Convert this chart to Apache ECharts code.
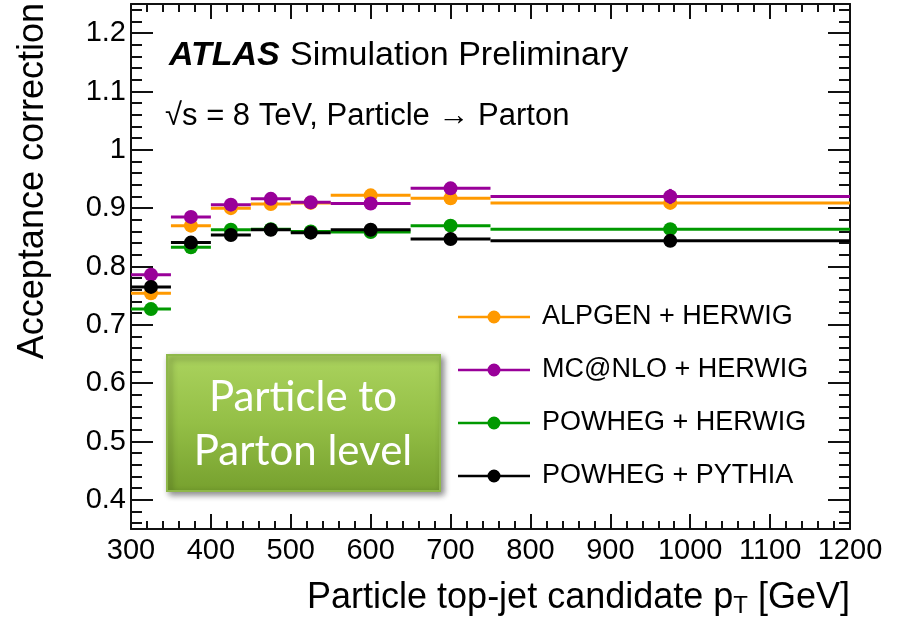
<!DOCTYPE html>
<html>
<head>
<meta charset="utf-8">
<script src="https://cdn.jsdelivr.net/npm/echarts@6/dist/echarts.min.js"></script>
<style>
  html, body { margin: 0; padding: 0; background: #fff; }
  #chart { width: 898px; height: 625px; }
</style>
</head>
<body>
<div id="chart"></div>
<script>
// Bin edges and centres of the particle top-jet candidate pT (GeV)
const binLow    = [300, 350, 400, 450, 500, 550, 650, 750];
const binHigh   = [350, 400, 450, 500, 550, 650, 750, 1200];
const binCenter = [325, 375, 425, 475, 525, 600, 700, 975];

// Acceptance correction per generator setup
const alpgenHerwig  = [0.754, 0.870, 0.900, 0.907, 0.909, 0.922, 0.917, 0.909];
const mcatnloHerwig = [0.786, 0.885, 0.906, 0.916, 0.910, 0.908, 0.934, 0.920];
const powhegHerwig  = [0.727, 0.833, 0.863, 0.864, 0.860, 0.859, 0.870, 0.864];
const powhegPythia  = [0.765, 0.841, 0.854, 0.863, 0.858, 0.863, 0.847, 0.844];

// Statistical uncertainties (only visible beyond the marker in the last bins)
const mcatnloHerwigErr = [0, 0, 0, 0, 0, 0, 0.004, 0.013];

const seriesNames = ['ALPGEN + HERWIG', 'MC@NLO + HERWIG', 'POWHEG + HERWIG', 'POWHEG + PYTHIA'];

// Axis tick positions
const yMajorTicks = [0.4, 0.5, 0.6, 0.7, 0.8, 0.9, 1.0, 1.1, 1.2];
const yMinorTicks = [0.36, 0.38, 0.42, 0.44, 0.46, 0.48, 0.52, 0.54, 0.56, 0.58,
                     0.62, 0.64, 0.66, 0.68, 0.72, 0.74, 0.76, 0.78, 0.82, 0.84, 0.86, 0.88,
                     0.92, 0.94, 0.96, 0.98, 1.02, 1.04, 1.06, 1.08, 1.12, 1.14, 1.16, 1.18,
                     1.22, 1.24];

const FONT = "'Liberation Sans', Arial, Helvetica, sans-serif";
const legendIcon = 'path://M0,5.3H72V7.7H0Z M29.5,6.5a6.5,6.5 0 1,1 13,0a6.5,6.5 0 1,1 -13,0Z';

function histSeries(name, values, errs, color) {
  return {
    type: 'custom',
    name: name,
    itemStyle: { color: color },
    xAxisIndex: 0,
    yAxisIndex: 0,
    data: values.map((v, i) => [binLow[i], binHigh[i], binCenter[i], v, errs ? errs[i] : 0]),
    encode: { x: [0, 1, 2], y: 3 },
    renderItem: function (params, api) {
      const v = api.value(3);
      const lo = api.coord([api.value(0), v]);
      const hi = api.coord([api.value(1), v]);
      const c = api.coord([api.value(2), v]);
      const e = api.value(4);
      const children = [{
        type: 'line',
        shape: { x1: lo[0], y1: lo[1], x2: hi[0], y2: hi[1] },
        style: { stroke: color, lineWidth: 3 }
      }];
      if (e > 0) {
        const top = api.coord([api.value(2), v + e]);
        const bot = api.coord([api.value(2), v - e]);
        children.push({
          type: 'line',
          shape: { x1: c[0], y1: top[1], x2: c[0], y2: bot[1] },
          style: { stroke: color, lineWidth: 3 }
        });
      }
      children.push({
        type: 'circle',
        shape: { cx: c[0], cy: c[1], r: 7 },
        style: { fill: color }
      });
      return { type: 'group', children: children };
    }
  };
}

const frameLine = { show: true, onZero: false, lineStyle: { color: '#111', width: 2 } };
const noLabel = { show: false };

const chart = echarts.init(document.getElementById('chart'), null, { renderer: 'canvas' });

chart.setOption({
  animation: false,
  backgroundColor: '#ffffff',
  grid: { left: 131, right: 48, top: 4, bottom: 96, outerBoundsMode: 'none' },
  xAxis: [
    {
      type: 'value', position: 'bottom', min: 300, max: 1200, interval: 100,
      axisLine: frameLine,
      axisTick: { show: true, inside: true, length: 15, lineStyle: { color: '#111', width: 2 } },
      minorTick: { show: true, splitNumber: 5, length: 8, lineStyle: { color: '#111', width: 2 } },
      axisLabel: { show: true, color: '#000', fontFamily: FONT, fontSize: 29, margin: 7, formatter: v => String(v) },
      splitLine: { show: false }, minorSplitLine: { show: false }
    },
    {
      type: 'value', position: 'top', min: 300, max: 1200, interval: 100,
      axisLine: frameLine,
      axisTick: { show: true, inside: true, length: 15, lineStyle: { color: '#111', width: 2 } },
      minorTick: { show: true, splitNumber: 5, length: 8, lineStyle: { color: '#111', width: 2 } },
      axisLabel: noLabel,
      splitLine: { show: false }, minorSplitLine: { show: false }
    }
  ],
  yAxis: [
    {
      type: 'value', position: 'left', min: 0.35, max: 1.25,
      axisLine: frameLine,
      axisTick: { show: true, inside: true, length: 22, customValues: yMajorTicks, lineStyle: { color: '#111', width: 2 } },
      axisLabel: { show: true, customValues: yMajorTicks, color: '#000', fontFamily: FONT, fontSize: 29, margin: 5 },
      splitLine: { show: false }
    },
    {
      type: 'value', position: 'left', min: 0.35, max: 1.25,
      axisLine: { show: false },
      axisTick: { show: true, inside: true, length: 11, customValues: yMinorTicks, lineStyle: { color: '#111', width: 2 } },
      axisLabel: noLabel,
      splitLine: { show: false }
    },
    {
      type: 'value', position: 'right', min: 0.35, max: 1.25,
      axisLine: frameLine,
      axisTick: { show: true, inside: true, length: 22, customValues: yMajorTicks, lineStyle: { color: '#111', width: 2 } },
      axisLabel: noLabel,
      splitLine: { show: false }
    },
    {
      type: 'value', position: 'right', min: 0.35, max: 1.25,
      axisLine: { show: false },
      axisTick: { show: true, inside: true, length: 11, customValues: yMinorTicks, lineStyle: { color: '#111', width: 2 } },
      axisLabel: noLabel,
      splitLine: { show: false }
    }
  ],
  legend: {
    orient: 'vertical',
    left: 453,
    top: 297,
    itemWidth: 74,
    itemHeight: 13,
    itemGap: 23,
    textStyle: { fontFamily: FONT, fontSize: 27, color: '#000', lineHeight: 30, padding: [0, 0, 0, 6] },
    data: seriesNames.map(n => ({ name: n, icon: legendIcon }))
  },
  series: [
    histSeries(seriesNames[0], alpgenHerwig, null, '#ff9900'),
    histSeries(seriesNames[1], mcatnloHerwig, mcatnloHerwigErr, '#990099'),
    histSeries(seriesNames[2], powhegHerwig, null, '#009900'),
    histSeries(seriesNames[3], powhegPythia, null, '#000000')
  ],
  graphic: [
    // Axis titles
    {
      type: 'text', x: 33, y: 3, rotation: Math.PI / 2,
      style: { text: 'Acceptance correction', font: '36px ' + FONT, fill: '#000', align: 'right', verticalAlign: 'middle' }
    },
    {
      type: 'text', x: 850, y: 598,
      style: {
        text: '{a|Particle top-jet candidate p}{s|T}{a| [GeV]}',
        align: 'right', verticalAlign: 'middle',
        rich: {
          a: { fontFamily: FONT, fontSize: 36, lineHeight: 40, fill: '#000', verticalAlign: 'middle' },
          s: { fontFamily: FONT, fontSize: 24, lineHeight: 26, fill: '#000', verticalAlign: 'bottom' }
        }
      }
    },
    // Experiment label
    {
      type: 'text', x: 169, y: 56,
      style: { text: 'ATLAS', font: 'italic bold 34px ' + FONT, fill: '#000', align: 'left', verticalAlign: 'middle' }
    },
    {
      type: 'text', x: 290, y: 56,
      style: { text: 'Simulation Preliminary', font: '34px ' + FONT, fill: '#000', align: 'left', verticalAlign: 'middle' }
    },
    {
      type: 'text', x: 165, y: 116,
      style: { text: '√s = 8 TeV, Particle \u2192 Parton', font: '31px ' + FONT, fill: '#000', align: 'left', verticalAlign: 'middle' }
    },
    // Level-of-correction badge
    {
      type: 'rect',
      shape: { x: 167, y: 355, width: 273, height: 136 },
      style: {
        fill: new echarts.graphic.LinearGradient(0, 0, 0, 1, [
          { offset: 0, color: '#abd35e' },
          { offset: 0.5, color: '#94bf46' },
          { offset: 1, color: '#76a02e' }
        ]),
        stroke: '#8fb84a',
        lineWidth: 2,
        shadowBlur: 6,
        shadowOffsetX: 3,
        shadowOffsetY: 3,
        shadowColor: 'rgba(0,0,0,0.45)'
      }
    },
    {
      type: 'text', x: 303, y: 397,
      style: { text: 'Particle to', font: '42px Lato, "Open Sans", sans-serif', fill: '#ffffff', align: 'center', verticalAlign: 'middle' }
    },
    {
      type: 'text', x: 303, y: 451,
      style: { text: 'Parton level', font: '42px Lato, "Open Sans", sans-serif', fill: '#ffffff', align: 'center', verticalAlign: 'middle' }
    }
  ]
});
</script>
</body>
</html>
